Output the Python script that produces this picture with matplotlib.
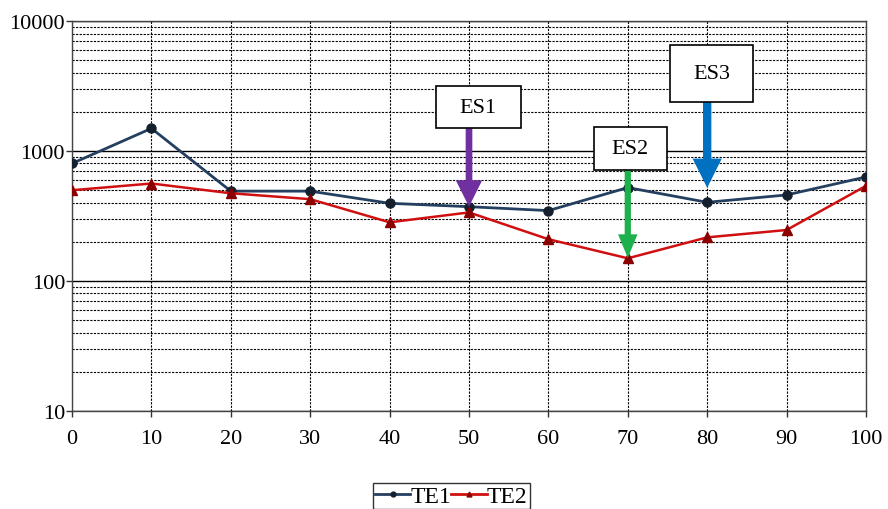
import matplotlib
matplotlib.use('Agg')
import matplotlib.pyplot as plt
from matplotlib.lines import Line2D
from matplotlib.patches import Rectangle
from matplotlib.ticker import NullFormatter, FixedLocator, LogLocator

plt.rcParams['font.family'] = ['Liberation Serif', 'DejaVu Serif']

x = [0, 10, 20, 30, 40, 50, 60, 70, 80, 90, 100]
te1 = [800, 1490, 490, 490, 395, 372, 347, 522, 402, 458, 630]
te2 = [498, 561, 472, 425, 282, 336, 209, 149, 216, 246, 538]
y_ticks = [10, 100, 1000, 10000]
y_labels = ['10', '100', '1000', '10000']

# annotation boxes: label, box x-range, box y-range, arrow x, arrow tip y, colour, arrow sizes
events = [
    ('ES1', (45.8, 56.5), (1496, 3150), 50, 372, '#7030A0', (4.8, 19, 19)),
    ('ES2', (65.7, 74.9), (710, 1520), 70, 150, '#1DB04C', (4.5, 14, 17)),
    ('ES3', (75.3, 85.8), (2371, 6520), 80, 520, '#0070C0', (6.0, 21, 21)),
]

fig = plt.figure(figsize=(8.88, 5.10), dpi=100)
ax = fig.add_axes([0.0811, 0.1927, 0.8941, 0.7642])

ax.set_yscale('log')
ax.set_xlim(0, 100)
ax.set_ylim(10, 10000)

ax.plot(x, te1, color='#243F60', lw=2.0, marker='o', ms=6.5,
        mfc='#15202e', mec='#15202e', zorder=4)
ax.plot(x, te2, color='#D01010', lw=1.8, marker='^', ms=6.5,
        mfc='#8B0000', mec='#8B0000', zorder=4)

ax.set_xticks(x)
ax.set_xticklabels([str(v) for v in x])
ax.yaxis.set_major_locator(FixedLocator(y_ticks))
ax.set_yticklabels(y_labels)
ax.yaxis.set_minor_locator(LogLocator(base=10, subs=range(2, 10)))
ax.yaxis.set_minor_formatter(NullFormatter())
ax.tick_params(axis='both', labelsize=16, length=4, width=1, color='#333333')
ax.tick_params(axis='x', pad=9)
ax.tick_params(axis='y', pad=1)
ax.tick_params(which='minor', length=0)

ax.grid(which='major', axis='y', color='black', lw=1.0, ls='-')
ax.grid(which='minor', axis='y', color='black', lw=0.8, ls=(0, (2, 1.2)))
ax.grid(which='major', axis='x', color='black', lw=0.8, ls=(0, (2, 1.2)))
ax.set_axisbelow(True)
for s in ax.spines.values():
    s.set_color('#444444')
    s.set_linewidth(1.0)

for label, (x0, x1), (y0, y1), xt, yt, col, (tw, hw, hl) in events:
    ax.add_patch(Rectangle((x0, y0), x1 - x0, y1 - y0, fc='white', ec='black',
                           lw=1.2, zorder=6))
    ax.text((x0 + x1) / 2, (y0 * y1) ** 0.5, label, ha='center', va='center',
            fontsize=16, zorder=7)
    ax.annotate('', xy=(xt, yt), xytext=(xt, y0),
                arrowprops=dict(arrowstyle=f'simple,head_length={hl},head_width={hw},tail_width={tw}',
                                fc=col, ec=col, lw=0, mutation_scale=1,
                                shrinkA=0, shrinkB=0), zorder=5)

handles = [Line2D([], [], color='#243F60', lw=2.0, marker='o', ms=3.5, mfc='#15202e', mec='#15202e'),
           Line2D([], [], color='#D01010', lw=2.0, marker='^', ms=3.5, mfc='#8B0000', mec='#8B0000')]
leg = fig.legend(handles, ['TE1', 'TE2'], loc='upper center',
                 bbox_to_anchor=(0.508, 1 - 484 / 510),
                 ncol=2, fontsize=17, frameon=True, fancybox=False, edgecolor='black',
                 handlelength=1.5, handletextpad=0.0, columnspacing=0.0, borderpad=0.1,
                 borderaxespad=0)
leg.get_frame().set_linewidth(1.0)

fig.savefig('out.png', dpi=100)
